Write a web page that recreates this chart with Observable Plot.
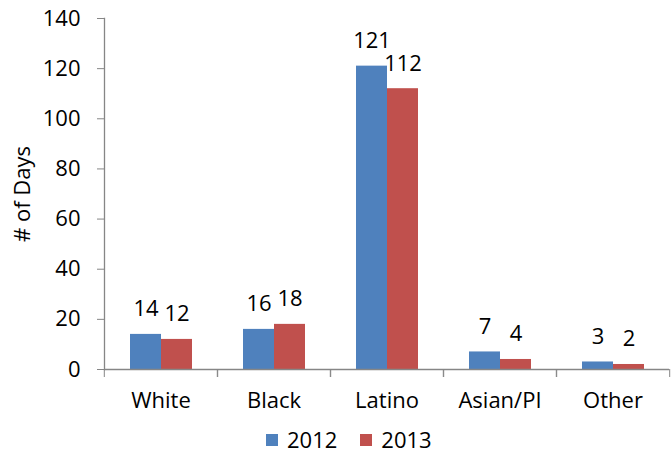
<!DOCTYPE html>
<html>
<head>
<meta charset="utf-8">
<script src="https://cdn.jsdelivr.net/npm/d3@7"></script>
<script src="https://cdn.jsdelivr.net/npm/@observablehq/plot@0.6"></script>
<style>
  html, body { margin: 0; padding: 0; background: #fff; }
  #chart { width: 672px; }
  .legend { display: flex; align-items: center; height: 24px; padding-left: 266px;
            font-family: "Open Sans", sans-serif; font-size: 22px; line-height: 22px; color: #000; }
  .legend .item { display: flex; align-items: center; margin-right: 23px; }
  .legend .sw { width: 12px; height: 12px; margin-right: 9px; margin-top: 2px; }
</style>
</head>
<body>
<div id="chart"></div>
<script>
const categories = ["White", "Black", "Latino", "Asian/PI", "Other"];
const years = ["2012", "2013"];
const values2012 = [14, 16, 121, 7, 3];
const values2013 = [12, 18, 112, 4, 2];
const yTicks = [0, 20, 40, 60, 80, 100, 120, 140];
const colors = ["#4F81BD", "#C0504D"];
const yTitle = "# of Days";

const data = categories.flatMap((c, i) => [
  {cat: c, year: years[0], value: values2012[i]},
  {cat: c, year: years[1], value: values2013[i]}
]);

const W = 672, H = 427, ML = 103, MR = 2;
const step = (W - ML - MR) / categories.length;
const axisGray = "#868686";

const chart = Plot.plot({
  width: W, height: H,
  marginLeft: ML, marginRight: MR, marginTop: 18, marginBottom: 58,
  style: {fontFamily: "'Open Sans', sans-serif", fontSize: "22px", color: "#000", background: "#fff"},
  fx: {domain: categories, paddingInner: 0, paddingOuter: 0, label: null},
  x: {domain: years, paddingInner: 0, paddingOuter: 0.772, axis: null},
  y: {domain: [0, 140], axis: null},
  color: {domain: years, range: colors},
  marks: [
    Plot.barY(data, {fx: "cat", x: "year", y: "value", fill: "year"}),
    Plot.frame({anchor: "left", facetAnchor: "left", stroke: axisGray, strokeWidth: 1.3}),
    Plot.ruleY([0], {stroke: axisGray, strokeWidth: 1.3}),
    Plot.axisY({ticks: yTicks, tickSize: 7, tickPadding: 17,
      stroke: axisGray, fill: "#000", label: yTitle, labelAnchor: "center",
      labelArrow: "none", labelOffset: 90}),
    Plot.axisFx({anchor: "bottom", tickSize: 0, tickPadding: 23, label: null, fill: "#000"}),
    Plot.axisFx({anchor: "bottom", tickSize: 8, tickFormat: () => "", dx: -step / 2, stroke: axisGray, label: null}),
    Plot.axisFx({anchor: "bottom", tickSize: 8, tickFormat: () => "", dx: step / 2, stroke: axisGray, label: null}),
    Plot.text(data, {fx: "cat", x: "year", y: "value", text: d => String(d.value),
      lineAnchor: "bottom", dy: -18, fill: "#000"})
  ]
});
document.getElementById("chart").appendChild(chart);

const legend = document.createElement("div");
legend.className = "legend";
years.forEach((y, i) => {
  const item = document.createElement("div");
  item.className = "item";
  const sw = document.createElement("div");
  sw.className = "sw";
  sw.style.background = colors[i];
  const t = document.createElement("span");
  t.textContent = y;
  item.appendChild(sw);
  item.appendChild(t);
  legend.appendChild(item);
});
document.getElementById("chart").appendChild(legend);
</script>
</body>
</html>
